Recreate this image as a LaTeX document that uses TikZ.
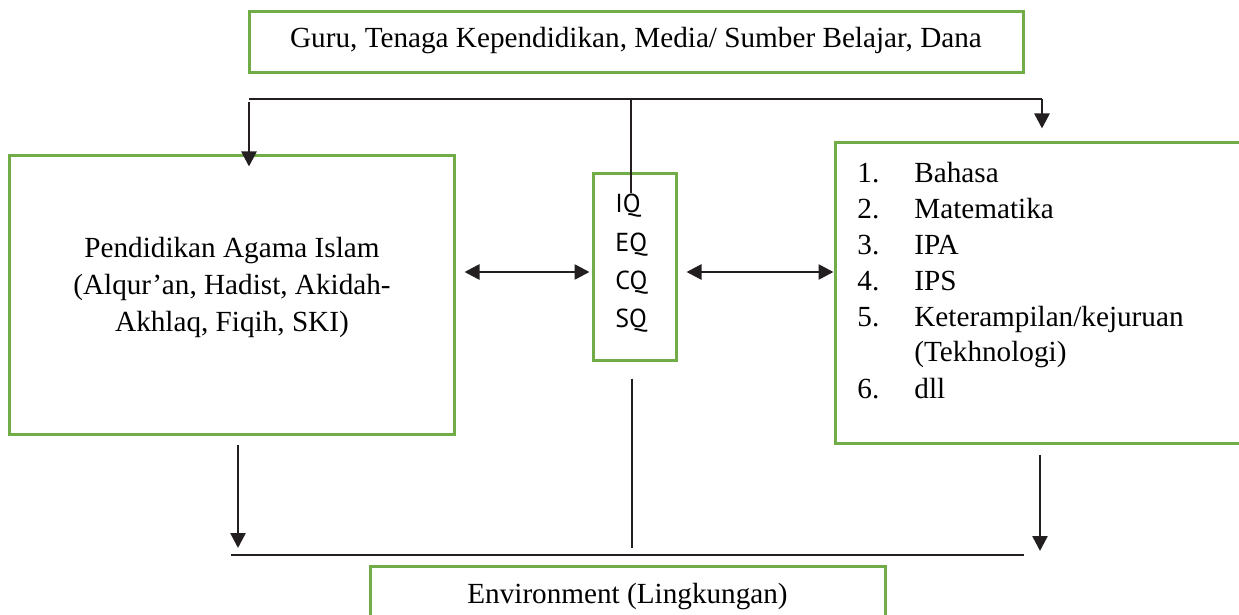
\documentclass[tikz,border=0pt]{standalone}
\usepackage{fontspec}
\setmainfont{Liberation Serif}
\newfontfamily\qfont{PT Sans}
\usetikzlibrary{arrows.meta}
\definecolor{boxgreen}{HTML}{70AD47}
\definecolor{ink}{HTML}{231F20}
\begin{document}
\begin{tikzpicture}[x=0.5pt,y=-0.5pt,
  gbox/.style={draw=boxgreen,line width=1.5pt,inner sep=0pt},
  serif/.style={font=\fontsize{14.6pt}{18.5pt}\selectfont},
  txt/.style={inner sep=0pt},
  arr/.style={draw=ink,line width=1.3pt,-{Triangle[length=7.5pt,width=7.5pt]}},
  dblarr/.style={draw=ink,line width=1.3pt,{Triangle[length=7.5pt,width=7.5pt]}-{Triangle[length=7.5pt,width=7.5pt]}},
  bus/.style={draw=ink,line width=0.9pt},
  thinline/.style={draw=ink,line width=0.6pt}]
\useasboundingbox (0,0) rectangle (1239,615);

% boxes
\node[gbox,serif,minimum width=387pt,minimum height=30.5pt,text height=9pt,text depth=3.5pt] (res) at (636,42.5)
  {Guru, Tenaga Kependidikan, Media/ Sumber Belajar, Dana};
\node[gbox,minimum width=222.5pt,minimum height=139pt] (pai) at (231.5,295) {};
\node[gbox,minimum width=41.5pt,minimum height=93pt] (qbox) at (634.5,267) {};
\node[gbox,minimum width=207.5pt,minimum height=150pt] (rbox) at (1042.5,293) {};
\node[gbox,serif,minimum width=257.5pt,minimum height=37pt,text height=5pt,text depth=5pt] (env) at (627.5,603)
  {Environment (Lingkungan)};

% texts (base anchor = baseline of the last line)
\node[txt,anchor=base,align=center,font=\fontsize{14.6pt}{18.5pt}\selectfont] (paitext) at (232,331)
  {Pendidikan Agama Islam\\(Alqur’an, Hadist, Akidah-\\Akhlaq, Fiqih, SKI)};
\node[txt,anchor=base west,align=left,font=\qfont\fontsize{13pt}{19.2pt}\selectfont] (qtext) at (615,328)
  {IQ\\EQ\\CQ\\SQ};
\node[txt,anchor=base west,align=left,font=\fontsize{14.6pt}{18pt}\selectfont] (list) at (857,398)
  {\makebox[28.5pt][l]{1.}Bahasa\\
   \makebox[28.5pt][l]{2.}Matematika\\
   \makebox[28.5pt][l]{3.}IPA\\
   \makebox[28.5pt][l]{4.}IPS\\
   \makebox[28.5pt][l]{5.}Keterampilan/kejuruan\\
   \hspace*{28.5pt}(Tekhnologi)\\
   \makebox[28.5pt][l]{6.}dll};

% top distribution
\coordinate (bl) at (249,99);
\coordinate (bm) at (631,99);
\coordinate (br) at (1042,99);
\draw[bus] (bl) -- (br);
\draw[arr] ([yshift=-1.5pt]bl) -- ([yshift=-6pt]bl |- pai.north);
\draw[arr] (br) -- ([yshift=6.5pt]br |- rbox.north);
\draw[thinline] (bm) -- ([yshift=-10.5pt]bm |- qbox.north);

% double arrows
\draw[dblarr] ([xshift=4.5pt,yshift=-2.5pt]pai.east |- qbox.west) -- ([xshift=-1pt,yshift=-2.5pt]qbox.west);
\draw[dblarr] ([xshift=4.5pt,yshift=-2.5pt]qbox.east) -- ([yshift=-2.5pt]qbox.east -| rbox.west);

% bottom collection
\coordinate (el) at (231,555);
\coordinate (er) at (1024,555);
\coordinate (dl) at (238,548);
\coordinate (dm) at (632,548);
\coordinate (dr) at (1040,551);
\draw[bus] (el) -- (er);
\draw[arr] ([yshift=-4.5pt]pai.south -| dl) -- (dl);
\draw[arr] ([yshift=-5pt]rbox.south -| dr) -- (dr);
\draw[thinline] ([yshift=-8.5pt]qbox.south -| dm) -- (dm);
\end{tikzpicture}
\end{document}
